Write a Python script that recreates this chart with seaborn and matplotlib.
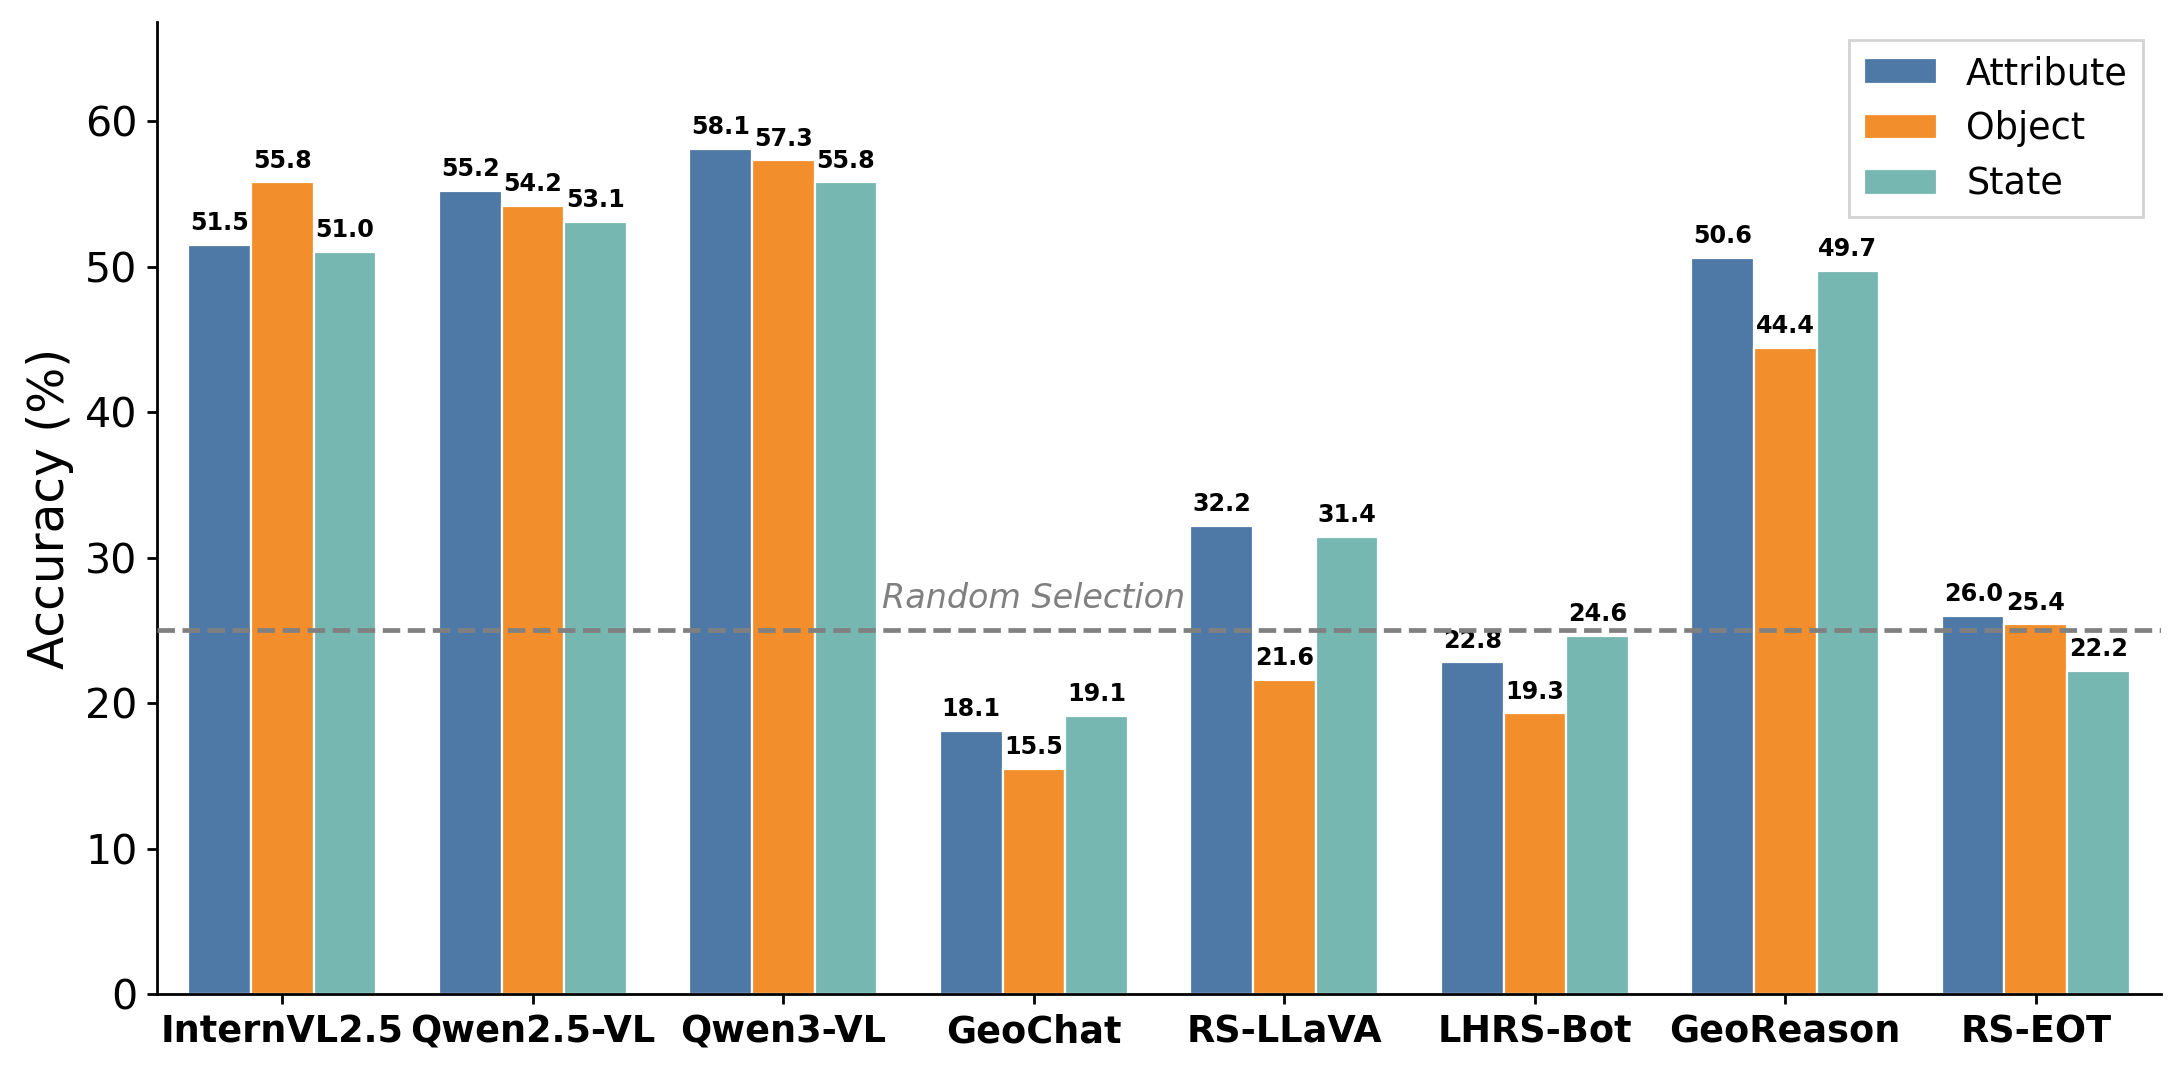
import matplotlib
matplotlib.use("Agg")
import matplotlib.pyplot as plt
import seaborn as sns
import pandas as pd

models = ["InternVL2.5", "Qwen2.5-VL", "Qwen3-VL", "GeoChat", "RS-LLaVA", "LHRS-Bot", "GeoReason", "RS-EOT"]
tasks = ["Attribute", "Object", "State"]
attribute = [51.5, 55.2, 58.1, 18.1, 32.2, 22.8, 50.6, 26.0]
obj = [55.8, 54.2, 57.3, 15.5, 21.6, 19.3, 44.4, 25.4]
state = [51.0, 53.1, 55.8, 19.1, 31.4, 24.6, 49.7, 22.2]
colors = ["#4E79A7", "#F28E2B", "#76B7B2"]
random_level = 25
yticks = [0, 10, 20, 30, 40, 50, 60]

rows = []
for t, vals in zip(tasks, [attribute, obj, state]):
    for m, v in zip(models, vals):
        rows.append({"Model": m, "Task": t, "Accuracy": v})
df = pd.DataFrame(rows)

sns.set_theme(style="ticks", rc={
    "text.color": "black", "axes.labelcolor": "black", "axes.edgecolor": "black",
    "xtick.color": "black", "ytick.color": "black",
    "axes.linewidth": 1.0, "xtick.major.width": 1.0, "ytick.major.width": 1.0,
})
plt.rcParams["font.family"] = ["DejaVu Sans"]

fig = plt.figure(figsize=(10.91, 5.37), dpi=200)
ax = fig.add_axes([0.0720, 0.0745, 0.9184, 0.905])

sns.barplot(data=df, x="Model", y="Accuracy", hue="Task", order=models, hue_order=tasks,
            palette=colors, width=0.75, edgecolor="white", linewidth=0.8, ax=ax,
            errorbar=None, saturation=1)

for cont in ax.containers:
    ax.bar_label(cont, fmt="%.1f", padding=3.5, fontsize=8.6, fontweight="bold", color="black")

ax.axhline(random_level, color="gray", linestyle="--", linewidth=1.7, zorder=3)
ax.text(3.0, random_level + 1.5, "Random Selection", ha="center", va="baseline",
        fontsize=12.0, style="italic", color="gray")

ax.set_xlim(-0.5, len(models) - 0.5)
ax.set_ylim(0, max(attribute + obj + state) * 1.15)
ax.set_yticks(yticks)
ax.tick_params(axis="y", labelsize=14.8, length=3.6, colors="black")
ax.tick_params(axis="x", labelsize=13.2, length=3.6, colors="black")
for lbl in ax.get_xticklabels():
    lbl.set_fontweight("bold")
ax.set_xlabel("")
ax.set_ylabel("Accuracy (%)", fontsize=17.5, labelpad=4, color="black")

sns.despine(ax=ax)
leg = ax.legend(loc="upper right", fontsize=13.2, frameon=True, fancybox=False,
                edgecolor="#d3d3d3", framealpha=1)
leg.get_frame().set_linewidth(1.0)
for t in leg.get_texts():
    t.set_color("black")

fig.savefig("out.png", dpi=200)
